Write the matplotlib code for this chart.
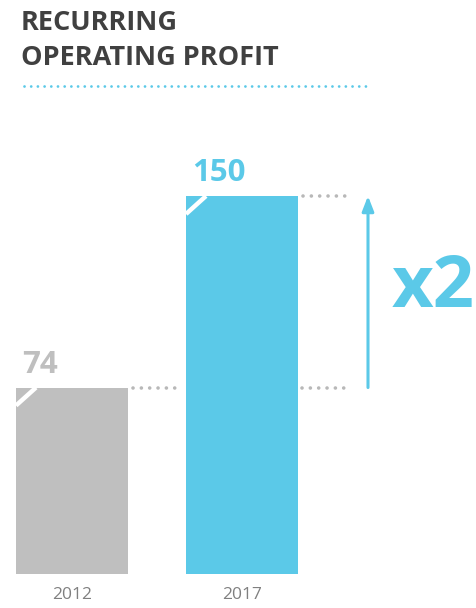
import matplotlib
matplotlib.use("Agg")
import matplotlib.pyplot as plt

# recurring operating profit, 2012 vs 2017
years = ["2012", "2017"]
profit = [74, 150]
multiple_label = "x2"

BLUE = "#5bc9e8"
GRAY = "#bfbfbf"
DOTS = "#b8b8b8"

plt.rcParams["font.family"] = ["Open Sans", "DejaVu Sans"]

fig = plt.figure(figsize=(4.77, 6.08), dpi=100)
ax = fig.add_axes([0, 0, 1, 1])

# 170 px between bar centres, 2.52 px per unit of profit
ax.set_xlim(-72 / 170, (477 - 72) / 170)
ax.set_ylim(-34 / 2.52, (608 - 34) / 2.52)
ax.axis("off")

width = 112 / 170
colors = [GRAY, BLUE]
x = range(len(years))
ax.bar(x, profit, width=width, color=colors, linewidth=0)

for i, (yr, val, c) in enumerate(zip(years, profit, colors)):
    left = i - width / 2
    # white notch across the top-left corner of each bar
    ax.plot([left, left + 20 / 170], [val - 18 / 2.52, val], color="white",
            lw=3.2, solid_capstyle="butt")
    ax.text(left + 6 / 170, val + 8 / 2.52, str(val), color=c, fontsize=22.5,
            fontweight="bold", ha="left", va="bottom")
    ax.text(i, -21 / 2.52, yr, color="#808080", fontsize=12.5, ha="center",
            va="center")

dot_style = dict(color=DOTS, lw=2.6, ls=(0, (0.01, 2.3)), dash_capstyle="round")
ax.plot([0.36, 0.645], [profit[0], profit[0]], **dot_style)
ax.plot([1.355, 1.645], [profit[0], profit[0]], **dot_style)
ax.plot([1.36, 1.625], [profit[1], profit[1]], **dot_style)

# growth arrow between the two levels
arrow_x = (368 - 72) / 170
ax.annotate("", xy=(arrow_x, profit[1]), xytext=(arrow_x, profit[0]),
            arrowprops=dict(arrowstyle="-|>,head_length=0.9,head_width=0.35",
                            color=BLUE, lw=2.2, shrinkA=0, shrinkB=0))
ax.text((433 - 72) / 170, (profit[0] + profit[1]) / 2 + 4 / 2.52, multiple_label,
        color=BLUE, fontsize=52, fontweight="bold", ha="center", va="center")

fig.text(21 / 477, 1 - 10 / 608, "RECURRING\nOPERATING PROFIT", color="#404040",
         fontsize=19.5, fontweight="bold", ha="left", va="top", linespacing=1.45)
fig.add_artist(plt.Line2D([24 / 477, 372 / 477], [1 - 86 / 608, 1 - 86 / 608],
                          color=BLUE, lw=2.0, ls=(0, (0.01, 2.4)),
                          dash_capstyle="round"))

fig.savefig("out.png", dpi=100)
